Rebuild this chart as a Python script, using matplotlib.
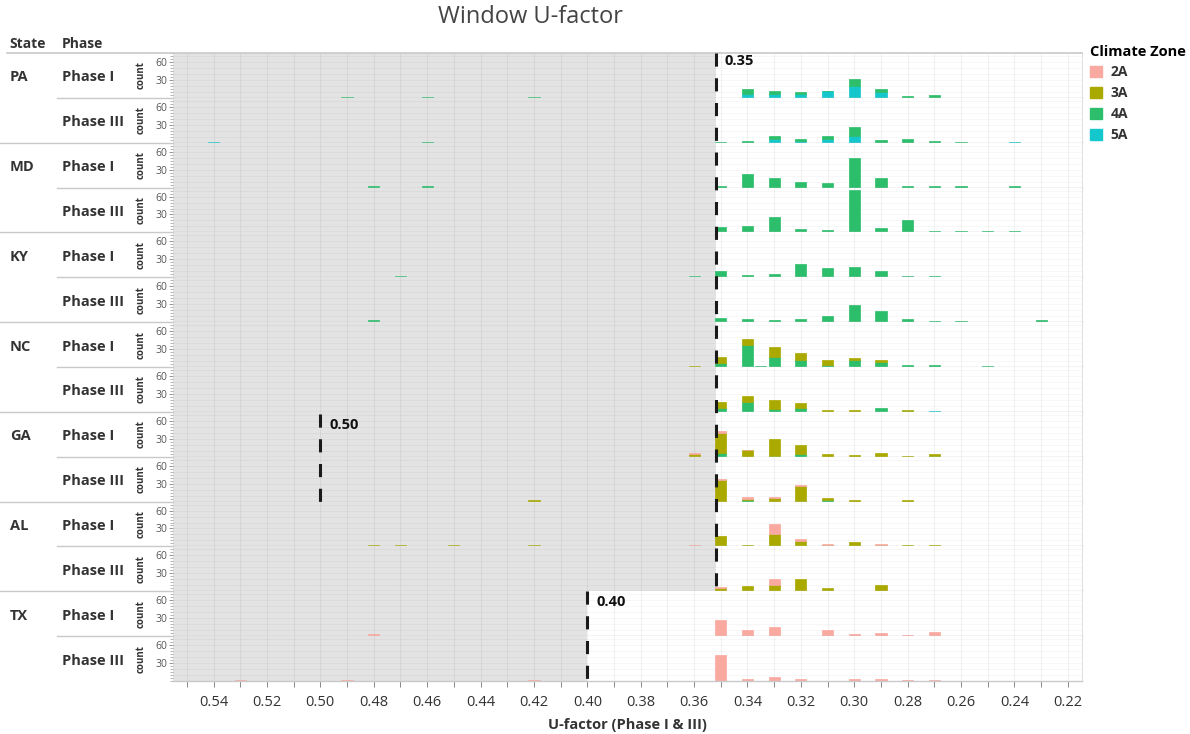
import matplotlib.pyplot as plt
from matplotlib.patches import Patch
from matplotlib.lines import Line2D
from matplotlib.ticker import MultipleLocator

plt.rcParams['font.family'] = ['Open Sans', 'DejaVu Sans']

# ---------------------------------------------------------------------------
# data: counts per U-factor, [2A, 3A, 4A, 5A]
# ---------------------------------------------------------------------------
zones = ['2A', '3A', '4A', '5A']
zone_colors = ['#F9A9A0', '#A9A900', '#2DBE6C', '#14C7CC']

states = ['PA', 'MD', 'KY', 'NC', 'GA', 'AL', 'TX']
phases = ['Phase I', 'Phase III']

pa_1 = {0.49: [0, 0, 2, 0], 0.46: [0, 0, 2, 0], 0.42: [0, 0, 2, 0],
        0.34: [0, 0, 7, 7], 0.33: [0, 0, 5, 7], 0.32: [0, 0, 3, 7], 0.31: [0, 0, 1, 11],
        0.30: [0, 0, 13, 19], 0.29: [0, 0, 6, 9], 0.28: [0, 0, 3, 0], 0.27: [0, 0, 5, 0]}
pa_3 = {0.54: [0, 0, 0, 2], 0.46: [0, 0, 2, 0], 0.35: [0, 0, 2, 0], 0.34: [0, 0, 2, 1],
        0.33: [0, 0, 6, 6], 0.32: [0, 0, 3, 3], 0.31: [0, 0, 5, 6], 0.30: [0, 0, 14, 12],
        0.29: [0, 0, 5, 0], 0.28: [0, 0, 7, 0], 0.27: [0, 0, 3, 0], 0.26: [0, 0, 2, 0],
        0.24: [0, 0, 0, 2]}
md_1 = {0.48: [0, 0, 2, 0], 0.46: [0, 0, 3, 0], 0.35: [0, 0, 2, 0], 0.34: [0, 0, 23, 0],
        0.33: [0, 0, 16, 0], 0.32: [0, 0, 10, 0], 0.31: [0, 0, 8, 0], 0.30: [0, 0, 49, 0],
        0.29: [0, 0, 16, 0], 0.28: [0, 0, 3, 0], 0.27: [0, 0, 3, 0], 0.26: [0, 0, 2, 0],
        0.24: [0, 0, 3, 0]}
md_3 = {0.35: [0, 0, 9, 0], 0.34: [0, 0, 11, 0], 0.33: [0, 0, 26, 0], 0.32: [0, 0, 6, 0],
        0.31: [0, 0, 4, 0], 0.30: [0, 0, 71, 0], 0.29: [0, 0, 8, 0], 0.28: [0, 0, 20, 0],
        0.27: [0, 0, 3, 0], 0.26: [0, 0, 2, 0], 0.25: [0, 0, 2, 0], 0.24: [0, 0, 2, 0]}
ky_1 = {0.47: [0, 0, 2, 0], 0.36: [0, 0, 2, 0], 0.35: [0, 0, 10, 0], 0.34: [0, 0, 4, 0],
        0.33: [0, 0, 6, 0], 0.32: [0, 0, 22, 0], 0.31: [0, 0, 16, 0], 0.30: [0, 0, 17, 0],
        0.29: [0, 0, 10, 0], 0.28: [0, 0, 2, 0], 0.27: [0, 0, 2, 0]}
ky_3 = {0.48: [0, 0, 3, 0], 0.35: [0, 0, 7, 0], 0.34: [0, 0, 6, 0], 0.33: [0, 0, 3, 0],
        0.32: [0, 0, 5, 0], 0.31: [0, 0, 11, 0], 0.30: [0, 0, 29, 0], 0.29: [0, 0, 18, 0],
        0.28: [0, 0, 6, 0], 0.27: [0, 0, 2, 0], 0.26: [0, 0, 2, 0], 0.23: [0, 0, 4, 0]}
nc_1 = {0.36: [0, 2, 0, 0], 0.35: [0, 10, 6, 0], 0.34: [0, 10, 36, 0], 0.335: [0, 0, 2, 0],
        0.33: [0, 17, 16, 0], 0.32: [0, 12, 12, 0], 0.31: [0, 9, 3, 0], 0.30: [0, 4, 11, 0],
        0.29: [0, 3, 8, 0], 0.28: [0, 0, 3, 0], 0.27: [0, 0, 3, 0], 0.25: [0, 0, 2, 0]}
nc_3 = {0.35: [0, 9, 7, 0], 0.34: [0, 11, 16, 0], 0.33: [0, 14, 5, 0], 0.32: [0, 7, 7, 0],
        0.31: [0, 3, 0, 0], 0.30: [0, 3, 0, 0], 0.29: [0, 0, 6, 0], 0.28: [0, 2, 1, 0],
        0.27: [0, 0, 0, 2]}
ga_1 = {0.36: [1, 5, 0, 0], 0.35: [3, 33, 7, 0], 0.34: [1, 11, 0, 0], 0.33: [0, 28, 1, 0],
        0.32: [0, 15, 4, 0], 0.31: [0, 4, 0, 0], 0.30: [0, 3, 0, 0], 0.29: [0, 6, 0, 0],
        0.28: [0, 2, 0, 0], 0.27: [0, 2, 2, 0]}
ga_3 = {0.42: [0, 2, 0, 0], 0.35: [2, 36, 0, 0], 0.34: [2, 3, 2, 0], 0.33: [1, 6, 0, 0],
        0.32: [1, 25, 1, 0], 0.31: [0, 4, 2, 0], 0.30: [0, 2, 0, 0], 0.28: [0, 2, 0, 0]}
al_1 = {0.48: [0, 2, 0, 0], 0.47: [0, 2, 0, 0], 0.45: [0, 2, 0, 0], 0.42: [0, 3, 0, 0],
        0.36: [2, 0, 0, 0], 0.35: [0, 17, 0, 0], 0.34: [0, 3, 0, 0], 0.33: [16, 21, 0, 0],
        0.32: [4, 9, 0, 0], 0.31: [1, 3, 0, 0], 0.30: [0, 7, 0, 0], 0.29: [1, 3, 0, 0],
        0.28: [0, 2, 0, 0], 0.27: [0, 2, 0, 0]}
al_3 = {0.35: [1, 6, 0, 0], 0.34: [0, 9, 0, 0], 0.33: [9, 11, 0, 0], 0.32: [0, 21, 0, 0],
        0.31: [0, 6, 0, 0], 0.29: [0, 11, 0, 0]}
tx_1 = {0.48: [4, 0, 0, 0], 0.35: [27, 0, 0, 0], 0.34: [11, 0, 0, 0], 0.33: [16, 0, 0, 0],
        0.31: [11, 0, 0, 0], 0.30: [4, 0, 0, 0], 0.29: [6, 0, 0, 0], 0.28: [2, 0, 0, 0],
        0.27: [7, 0, 0, 0]}
tx_3 = {0.53: [2, 0, 0, 0], 0.49: [1, 0, 0, 0], 0.42: [2, 0, 0, 0], 0.35: [44, 0, 0, 0],
        0.34: [4, 0, 0, 0], 0.33: [6, 0, 0, 0], 0.32: [4, 0, 0, 0], 0.30: [3, 0, 0, 0],
        0.29: [4, 0, 0, 0], 0.28: [2, 0, 0, 0], 0.27: [2, 0, 0, 0]}

row_data = [pa_1, pa_3, md_1, md_3, ky_1, ky_3, nc_1, nc_3,
            ga_1, ga_3, al_1, al_3, tx_1, tx_3]

# code limit shaded per state
state_limit = {'PA': 0.3518, 'MD': 0.3518, 'KY': 0.3518, 'NC': 0.3518,
               'GA': 0.3518, 'AL': 0.3518, 'TX': 0.40}

x_ticks = [0.54, 0.52, 0.50, 0.48, 0.46, 0.44, 0.42, 0.40, 0.38, 0.36,
           0.34, 0.32, 0.30, 0.28, 0.26, 0.24, 0.22]
x_tick_labels = ['%.2f' % t for t in x_ticks]
y_ticks = [30, 60]

# ---------------------------------------------------------------------------
W, H = 1190, 734
fig = plt.figure(figsize=(W / 100, H / 100), dpi=100)


def fx(p):
    return p / W


def fy(p):
    return 1 - p / H


LEFT, RIGHT, TOP, BOTTOM = 173, 1082, 53, 681
rh = (BOTTOM - TOP) / 14.0
XLIM = (0.5552, 0.2147)
YMAX = 75
sep_color = '#c9c9c9'
txt = '#333333'

for i, data in enumerate(row_data):
    state = states[i // 2]
    y0 = TOP + i * rh
    ax = fig.add_axes([fx(LEFT), fy(y0 + rh), fx(RIGHT) - fx(LEFT), rh / H])
    ax.set_xlim(*XLIM)
    ax.set_ylim(0, YMAX)
    ax.axvspan(XLIM[0], state_limit[state], color='#e3e3e3', zorder=0.2, lw=0)

    us = list(data.keys())
    bottom = [0] * len(us)
    # stack order bottom -> top: 5A, 4A, 3A, 2A
    for z in [3, 2, 1, 0]:
        vals = [data[u][z] for u in us]
        ax.bar(us, vals, width=0.0042, bottom=bottom, color=zone_colors[z],
               edgecolor=[zone_colors[z] if v > 0 else 'none' for v in vals],
               linewidth=0.5, zorder=2)
        bottom = [b + v for b, v in zip(bottom, vals)]

    ax.set_axisbelow(True)
    ax.xaxis.set_major_locator(MultipleLocator(0.02))
    ax.xaxis.set_minor_locator(MultipleLocator(0.01))
    ax.grid(True, which='both', axis='x', color='black', alpha=0.05, lw=0.8)
    # faint horizontal lines every 10
    for yv in range(10, YMAX, 10):
        ax.axhline(yv, color='black', alpha=0.03, lw=0.8, zorder=0.5)
    ax.set_yticks(y_ticks)
    ax.set_yticklabels([str(t) for t in y_ticks], fontsize=7.5, color='#555555')
    ax.yaxis.set_minor_locator(MultipleLocator(5))
    ax.tick_params(axis='y', which='major', length=3, width=0.6, color='#888888', pad=1)
    ax.tick_params(axis='y', which='minor', length=2, width=0.5, color='#999999')
    for s in ['left', 'top']:
        ax.spines[s].set_visible(False)
    ax.spines['right'].set_color('#e2e2e2')
    ax.spines['right'].set_linewidth(0.8)
    ax.spines['bottom'].set_color(sep_color)
    ax.spines['bottom'].set_linewidth(1)
    if i < 13:
        ax.tick_params(axis='x', which='both', bottom=False, labelbottom=False)
    else:
        ax.set_xticks(x_ticks)
        ax.set_xticklabels(x_tick_labels, fontsize=10.5, color=txt)
        ax.tick_params(axis='x', which='both', length=4, width=0.7, color='#888888', pad=6)
        ax.set_xlabel('U-factor (Phase I & III)', fontsize=10.5, fontweight='bold',
                      color=txt, labelpad=6)
    fig.text(fx(141), fy(y0 + rh / 2), 'count', rotation=90, fontsize=7,
             fontweight='bold', color=txt, ha='center', va='center')

# overlay for reference lines
ov = fig.add_axes([fx(LEFT), fy(BOTTOM), fx(RIGHT) - fx(LEFT), (BOTTOM - TOP) / H],
                  zorder=10)
ov.set_xlim(*XLIM)
ov.set_ylim(14, 0)
ov.axis('off')
ov.patch.set_alpha(0)
dash = (0, (4.3, 3.8))
ov.vlines(0.3518, 0, 12, colors='#1a1a1a', lw=2.2, linestyles=[dash])
ov.vlines(0.50, 8.05, 10, colors='#1a1a1a', lw=2.2, linestyles=[dash])
ov.vlines(0.40, 12.0, 14, colors='#1a1a1a', lw=2.2, linestyles=[dash])
ov.text(0.3485, 0.18, '0.35', fontsize=10.5, fontweight='bold', color='#111111', va='center')
ov.text(0.4965, 8.3, '0.50', fontsize=10.5, fontweight='bold', color='#111111', va='center')
ov.text(0.3965, 12.25, '0.40', fontsize=10.5, fontweight='bold', color='#111111', va='center')

# row header text and separators
fig.text(fx(530), fy(17), 'Window U-factor', fontsize=17, color='#444444',
         ha='center', va='center')
fig.text(fx(9), fy(44), 'State', fontsize=10, fontweight='bold', color=txt, va='center')
fig.text(fx(62), fy(44), 'Phase', fontsize=10, fontweight='bold', color=txt, va='center')
fig.add_artist(Line2D([fx(7), fx(RIGHT)], [fy(TOP), fy(TOP)], color=sep_color, lw=1.2))
for i in range(14):
    yc = TOP + i * rh + rh / 2 + 2
    if i % 2 == 0:
        fig.text(fx(10), fy(yc), states[i // 2], fontsize=10.5, fontweight='bold',
                 color=txt, va='center')
    fig.text(fx(62), fy(yc), phases[i % 2], fontsize=10.5, fontweight='bold',
             color=txt, va='center')
    yb = TOP + (i + 1) * rh
    if i < 13:
        x0 = 0 if i % 2 == 1 else 57
        fig.add_artist(Line2D([fx(x0), fx(LEFT)], [fy(yb), fy(yb)], color=sep_color, lw=1))

handles = [Patch(color=c, label=z) for z, c in zip(zones, zone_colors)]
leg = fig.legend(handles=handles, loc='upper left', bbox_to_anchor=(fx(1084), fy(39)),
                 frameon=False, title='Climate Zone', alignment='left',
                 fontsize=10, handlelength=0.9, handleheight=0.9, handletextpad=0.6,
                 labelspacing=0.5, borderaxespad=0)
leg.get_title().set_fontweight('bold')
leg.get_title().set_fontsize(10.5)
for t in leg.get_texts():
    t.set_fontweight('bold')
    t.set_color(txt)

fig.savefig('out.png', dpi=100)
